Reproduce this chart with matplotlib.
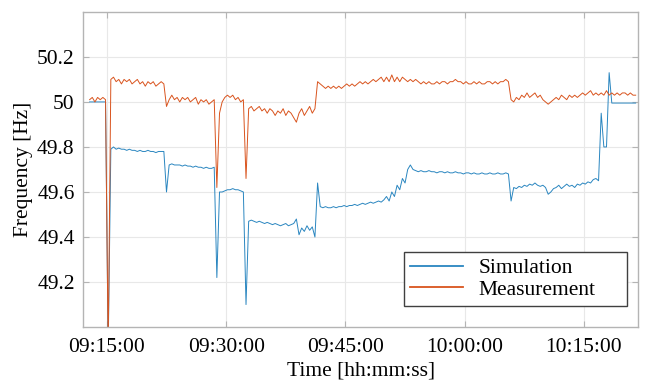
import numpy as np
import pandas as pd
import matplotlib
matplotlib.use("Agg")
import matplotlib.pyplot as plt
import matplotlib.dates as mdates

# samples every 20 s starting 09:12:50
t_start = "2020-01-01 09:12:50"
t_step = "20s"

# simulated frequency [Hz], 10 samples per row
simulation = [
    50.00, 50.00, 50.00, 50.00, 50.00, 50.00, 50.00, 48.90, 49.79, 49.80,
    49.79, 49.795, 49.79, 49.79, 49.785, 49.79, 49.785, 49.785, 49.78, 49.785,
    49.78, 49.78, 49.785, 49.78, 49.78, 49.775, 49.78, 49.78, 49.78, 49.60,
    49.72, 49.725, 49.72, 49.72, 49.72, 49.715, 49.72, 49.715, 49.715, 49.71,
    49.715, 49.71, 49.71, 49.705, 49.71, 49.705, 49.705, 49.71, 49.22, 49.60,
    49.60, 49.605, 49.61, 49.61, 49.615, 49.61, 49.61, 49.605, 49.60, 49.10,
    49.47, 49.475, 49.47, 49.465, 49.47, 49.465, 49.46, 49.465, 49.46, 49.455,
    49.46, 49.455, 49.45, 49.455, 49.46, 49.45, 49.455, 49.46, 49.48, 49.41,
    49.44, 49.425, 49.45, 49.43, 49.445, 49.40, 49.64, 49.535, 49.53, 49.535,
    49.53, 49.53, 49.535, 49.53, 49.535, 49.535, 49.54, 49.535, 49.54, 49.54,
    49.545, 49.54, 49.545, 49.55, 49.545, 49.55, 49.555, 49.55, 49.555, 49.56,
    49.555, 49.565, 49.58, 49.56, 49.60, 49.58, 49.63, 49.61, 49.66, 49.64,
    49.70, 49.72, 49.70, 49.695, 49.69, 49.695, 49.69, 49.69, 49.695, 49.69,
    49.69, 49.685, 49.69, 49.69, 49.685, 49.69, 49.685, 49.685, 49.69, 49.685,
    49.685, 49.68, 49.685, 49.685, 49.68, 49.685, 49.68, 49.68, 49.685, 49.68,
    49.68, 49.685, 49.68, 49.68, 49.685, 49.68, 49.68, 49.685, 49.68, 49.56,
    49.62, 49.615, 49.625, 49.62, 49.63, 49.625, 49.635, 49.63, 49.64, 49.63,
    49.625, 49.63, 49.62, 49.59, 49.60, 49.615, 49.62, 49.63, 49.615, 49.625,
    49.635, 49.625, 49.63, 49.62, 49.635, 49.63, 49.64, 49.635, 49.645, 49.64,
    49.655, 49.66, 49.65, 49.95, 49.80, 49.80, 50.13, 49.995, 49.995, 49.995,
    49.995, 49.995, 49.995, 49.995, 49.995, 49.995, 49.995,
]

# measured frequency [Hz]
measurement = [
    50.01, 50.02, 50.00, 50.02, 50.01, 50.02, 50.01, 48.90, 50.10, 50.11,
    50.09, 50.10, 50.08, 50.10, 50.09, 50.10, 50.08, 50.09, 50.10, 50.08,
    50.09, 50.07, 50.09, 50.08, 50.09, 50.07, 50.08, 50.09, 50.08, 49.98,
    50.01, 50.03, 50.01, 50.02, 50.00, 50.02, 50.01, 50.02, 50.00, 50.01,
    50.02, 49.99, 50.01, 50.00, 50.01, 49.99, 50.00, 50.01, 49.62, 49.95,
    50.00, 50.02, 50.03, 50.02, 50.03, 50.01, 50.02, 50.00, 50.01, 49.66,
    49.97, 49.98, 49.96, 49.97, 49.98, 49.96, 49.97, 49.95, 49.97, 49.96,
    49.94, 49.96, 49.95, 49.97, 49.94, 49.96, 49.95, 49.93, 49.91, 49.95,
    49.97, 49.94, 49.96, 49.98, 49.95, 49.97, 50.09, 50.08, 50.07, 50.06,
    50.07, 50.06, 50.07, 50.06, 50.07, 50.06, 50.07, 50.08, 50.07, 50.08,
    50.07, 50.08, 50.09, 50.08, 50.09, 50.08, 50.09, 50.10, 50.09, 50.10,
    50.11, 50.09, 50.11, 50.09, 50.12, 50.09, 50.11, 50.09, 50.11, 50.10,
    50.09, 50.10, 50.09, 50.10, 50.09, 50.08, 50.09, 50.08, 50.09, 50.08,
    50.08, 50.09, 50.08, 50.09, 50.09, 50.08, 50.09, 50.09, 50.10, 50.09,
    50.09, 50.08, 50.09, 50.08, 50.08, 50.09, 50.08, 50.09, 50.08, 50.08,
    50.09, 50.09, 50.08, 50.09, 50.08, 50.09, 50.09, 50.10, 50.09, 50.01,
    50.00, 50.02, 50.01, 50.03, 50.02, 50.04, 50.02, 50.03, 50.04, 50.02,
    50.03, 50.01, 50.00, 49.99, 50.00, 50.01, 50.02, 50.01, 50.03, 50.02,
    50.01, 50.03, 50.02, 50.03, 50.02, 50.03, 50.04, 50.03, 50.04, 50.05,
    50.03, 50.04, 50.03, 50.04, 50.03, 50.05, 50.03, 50.04, 50.03, 50.04,
    50.03, 50.04, 50.04, 50.03, 50.04, 50.03, 50.03,
]

x_ticks = ["09:15:00", "09:30:00", "09:45:00", "10:00:00", "10:15:00"]
y_ticks = [49.2, 49.4, 49.6, 49.8, 50.0, 50.2]
y_labels = ["49.2", "49.4", "49.6", "49.8", "50", "50.2"]

plt.rcParams['font.family'] = ['Liberation Serif', 'DejaVu Serif']
fs = 15.5

t_sim = pd.date_range(t_start, periods=len(simulation), freq=t_step)
t_meas = pd.date_range(t_start, periods=len(measurement), freq=t_step)

fig = plt.figure(figsize=(6.51, 3.83), dpi=100)
ax = fig.add_axes([0.1275, 0.146, 0.853, 0.823])

ax.plot(t_sim, simulation, color='#2a86c0', lw=0.7, label='Simulation')
ax.plot(t_meas, measurement, color='#d9541e', lw=0.7, label='Measurement')

ax.set_ylim(49.0, 50.4)
ax.set_xlim(pd.Timestamp("2020-01-01 09:12:00"), pd.Timestamp("2020-01-01 10:21:50"))
ax.set_xticks([pd.Timestamp("2020-01-01 " + s) for s in x_ticks])
ax.xaxis.set_major_formatter(mdates.DateFormatter('%H:%M:%S'))
ax.set_yticks(y_ticks)
ax.set_yticklabels(y_labels)

ax.grid(True, color='#e8e8e8', lw=0.8)
ax.set_axisbelow(True)
for sp in ax.spines.values():
    sp.set_color('#b4b4b4')
    sp.set_linewidth(1.0)
ax.tick_params(direction='in', length=4, color='#b4b4b4', labelsize=fs,
               top=True, right=True)
ax.tick_params(axis='x', pad=8)
ax.tick_params(axis='y', pad=6)

ax.set_xlabel('Time [hh:mm:ss]', fontsize=fs, labelpad=3)
ax.set_ylabel('Frequency [Hz]', fontsize=fs, labelpad=3)

leg = ax.legend(loc='lower left', bbox_to_anchor=(0.578, 0.067, 0.402, 0.175),
                mode='expand', fontsize=fs,
                fancybox=False, framealpha=1, edgecolor='#404040',
                handlelength=2.45, borderpad=0.3, labelspacing=0.05,
                handletextpad=0.7, borderaxespad=0)
leg.get_frame().set_linewidth(1.0)
for h in leg.get_lines():
    h.set_linewidth(1.3)

fig.savefig('out.png', dpi=100)
